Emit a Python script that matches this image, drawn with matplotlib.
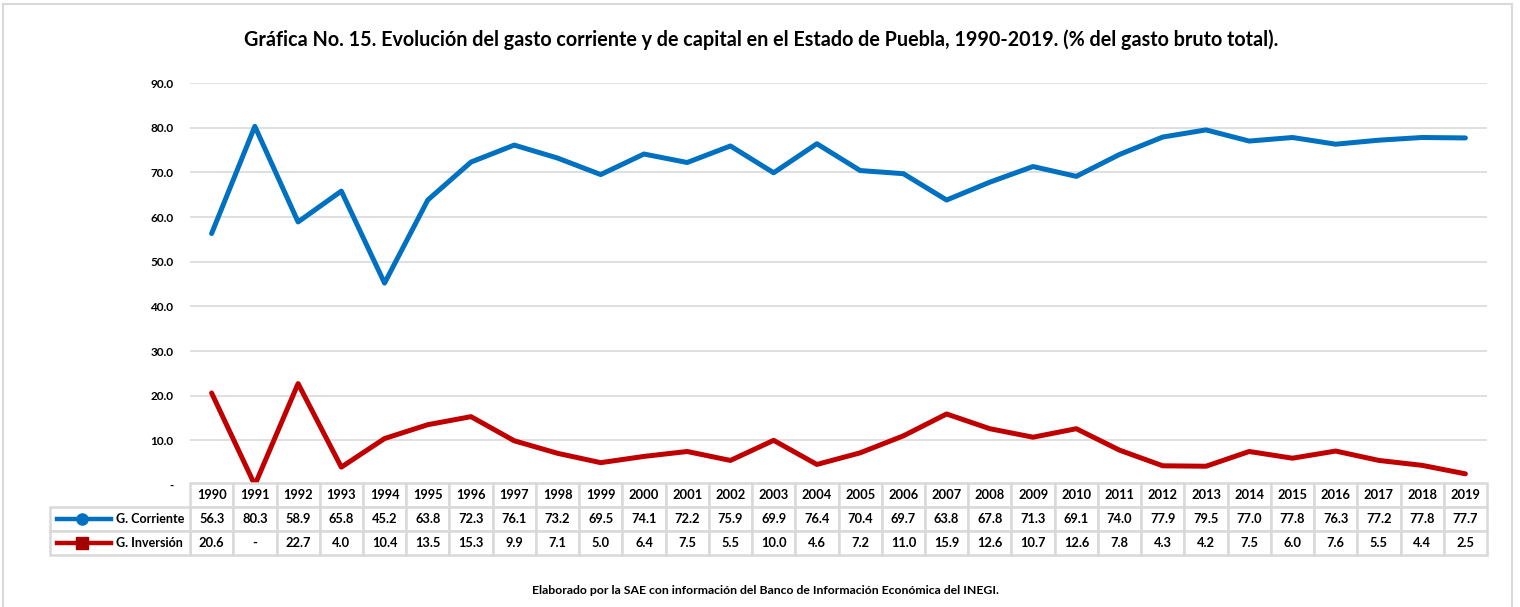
import numpy as np
import matplotlib.pyplot as plt
from matplotlib.patches import Rectangle
from matplotlib.lines import Line2D

years = list(range(1990, 2020))
g_corriente = [56.3, 80.3, 58.9, 65.8, 45.2, 63.8, 72.3, 76.1, 73.2, 69.5,
               74.1, 72.2, 75.9, 69.9, 76.4, 70.4, 69.7, 63.8, 67.8, 71.3,
               69.1, 74.0, 77.9, 79.5, 77.0, 77.8, 76.3, 77.2, 77.8, 77.7]
g_inversion = [20.6, 0.0, 22.7, 4.0, 10.4, 13.5, 15.3, 9.9, 7.1, 5.0,
               6.4, 7.5, 5.5, 10.0, 4.6, 7.2, 11.0, 15.9, 12.6, 10.7,
               12.6, 7.8, 4.3, 4.2, 7.5, 6.0, 7.6, 5.5, 4.4, 2.5]
series_names = ['G. Corriente', 'G. Inversión']
y_ticks = [0, 10, 20, 30, 40, 50, 60, 70, 80, 90]

blue = '#0070C0'
red = '#C00000'
grid_c = '#D9D9D9'

plt.rcParams['font.family'] = ['Lato', 'DejaVu Sans']
plt.rcParams['font.weight'] = 'bold'

fig = plt.figure(figsize=(15.2, 6.07), dpi=100)
W, H = 1520, 607

# chart area
ax = fig.add_axes([190 / W, (H - 485) / H, 1297 / W, 402 / H])
x = np.arange(len(years))
ax.plot(x, g_corriente, color=blue, lw=3.6, solid_capstyle='round', clip_on=False, zorder=3)
ax.plot(x, g_inversion, color=red, lw=3.6, solid_capstyle='round', clip_on=False, zorder=3)
ax.set_xlim(-0.5, len(years) - 0.5)
ax.set_ylim(0, 90)
ax.set_yticks(y_ticks)
ax.set_yticklabels(['-' if v == 0 else f'{v:.1f}' for v in y_ticks], fontsize=8.5)
ax.set_xticks([])
ax.tick_params(axis='y', length=0, pad=12)
ax.grid(axis='y', color=grid_c, lw=1.2)
ax.set_axisbelow(True)
for s in ax.spines.values():
    s.set_visible(False)

# data table
tab = fig.add_axes([50 / W, (H - 555) / H, 1437 / W, 72 / H])
label_w = 140 / 43.2
tab.set_xlim(-label_w, len(years))
tab.set_ylim(-3, 0)
tab.axis('off')

def cell(x0, y0, w, txt, **kw):
    tab.add_patch(Rectangle((x0, y0), w, 1, facecolor='white', edgecolor=grid_c,
                            lw=1.8, clip_on=False))
    if txt is not None:
        tab.text(x0 + w / 2, y0 + 0.5, txt, ha='center', va='center', fontsize=9.3, **kw)

inv_labels = ['-' if v == 0 else f'{v:.1f}' for v in g_inversion]
for i, yr in enumerate(years):
    cell(i, -1, 1, str(yr))
    cell(i, -2, 1, f'{g_corriente[i]:.1f}')
    cell(i, -3, 1, inv_labels[i])

for r, (name, col, mk, mfc) in enumerate([(series_names[0], blue, 'o', blue),
                                          (series_names[1], red, 's', '#A50000')]):
    y0 = -2 - r
    cell(-label_w, y0, label_w, None)
    tab.add_line(Line2D([-label_w + 0.16, -label_w + 1.41], [y0 + 0.5, y0 + 0.5],
                        color=col, lw=3.2, marker=None, clip_on=False))
    tab.plot([-label_w + 0.74], [y0 + 0.5], marker=mk, ms=8, color=mfc,
             mec=mfc, clip_on=False)
    tab.text(-label_w + 1.52, y0 + 0.5, name, ha='left', va='center', fontsize=9)

# title and source
fig.text(761 / W, 1 - 40 / H,
         'Gráfica No. 15. Evolución del gasto corriente y de capital en el Estado de Puebla, '
         '1990-2019. (% del gasto bruto total).',
         ha='center', va='center', fontsize=14.2)
fig.text(765 / W, 1 - 591 / H,
         'Elaborado por la SAE con información del Banco de Información Económica del INEGI.',
         ha='center', va='center', fontsize=8.8)

fig.patches.append(Rectangle((3 / W, -0.01), 1509 / W, 1.01 - 4 / H, transform=fig.transFigure,
                             fill=False, edgecolor=grid_c, lw=1.5))

fig.savefig('out.png', dpi=100)
